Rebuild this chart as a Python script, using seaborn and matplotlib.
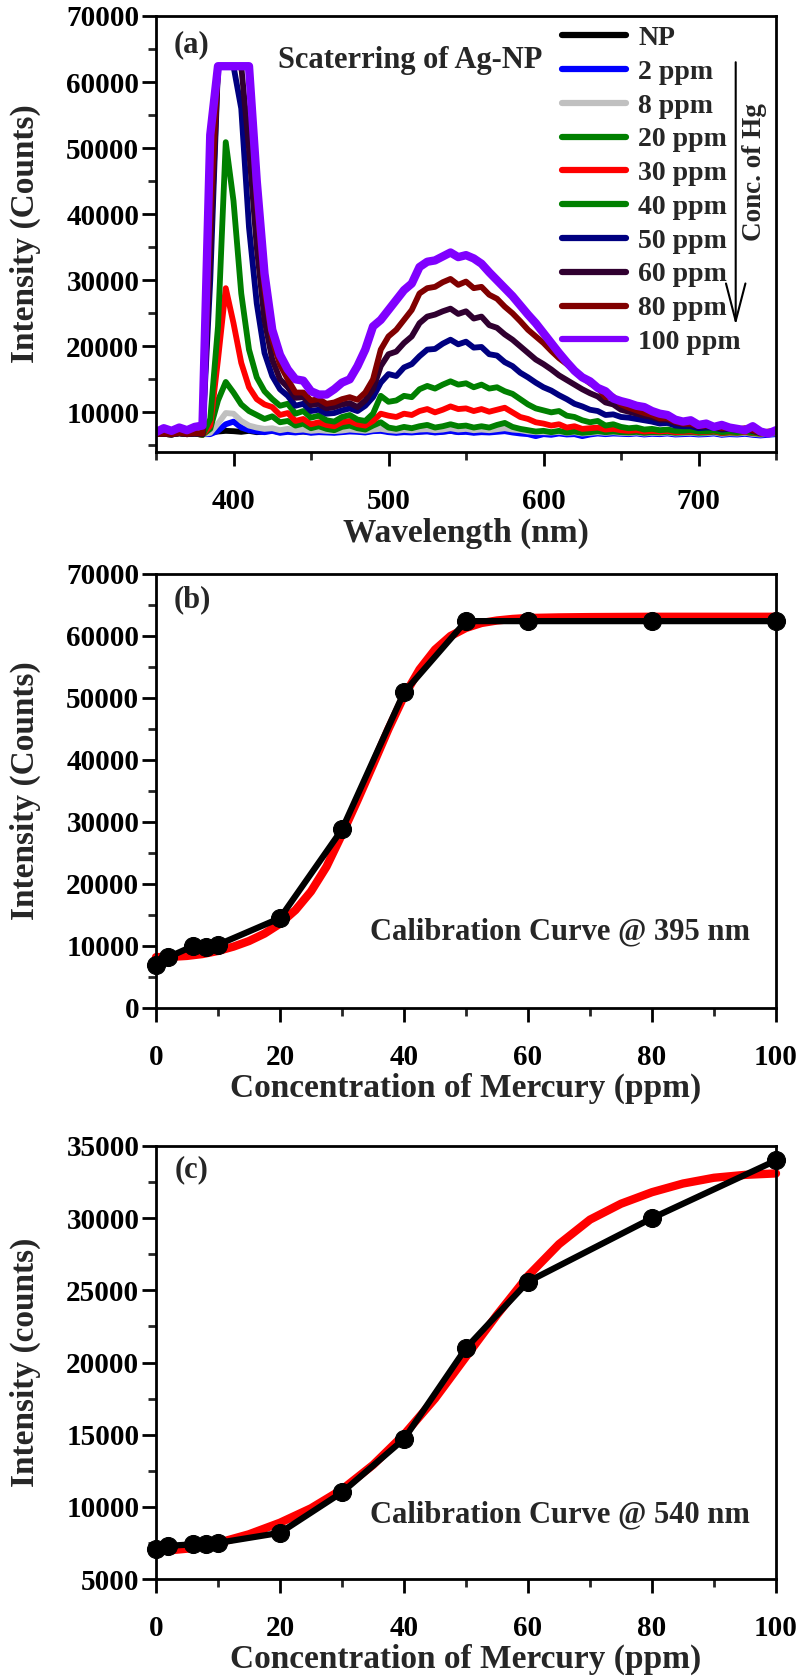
import numpy as np
import pandas as pd
import matplotlib
matplotlib.use("Agg")
import matplotlib.pyplot as plt
import seaborn as sns
from matplotlib.ticker import MultipleLocator

# ---------------- data ----------------
wavelength = list(range(350, 751, 5))

labels = ["NP", "2 ppm", "8 ppm", "20 ppm", "30 ppm", "40 ppm",
          "50 ppm", "60 ppm", "80 ppm", "100 ppm"]
colors = ["#000000", "#0000FF", "#C0C0C0", "#008000", "#FF0000", "#008000",
          "#000080", "#300030", "#800000", "#8000FF"]

np_ = [6700, 6800, 6700, 6900, 6750, 6850, 6700, 7000, 7100, 7200,
       7150, 7050, 7200, 7000, 7100, 7250, 7000, 7150, 7050, 7100,
       7000, 7150, 7050, 7000, 7100, 7200, 7150, 7050, 7250, 7300,
       7100, 7000, 7150, 7050, 7100, 7200, 7000, 7100, 7200, 7050,
       7150, 7000, 7100, 7050, 7200, 7300, 7100, 7050, 6900, 6800,
       6900, 6850, 7000, 6800, 6900, 6700, 6850, 6950, 6800, 6900,
       6850, 6800, 6900, 6750, 6850, 6800, 6900, 6750, 6800, 6850,
       6750, 6800, 6900, 6700, 6800, 6750, 6850, 6700, 6600, 6700,
       6800]
ppm2 = [6700, 6750, 6700, 6850, 6700, 6800, 6700, 6700, 7200, 8200,
        8600, 7700, 7300, 7100, 7000, 7200, 6900, 7050, 6950, 7100,
        6900, 7000, 6950, 6900, 7000, 7100, 7050, 6950, 7150, 7200,
        7000, 6900, 7000, 6950, 7050, 7100, 6950, 7050, 7200, 7000,
        7050, 6900, 7000, 6950, 7050, 7150, 6950, 6800, 6700, 6400,
        6700, 6600, 6800, 6650, 6700, 6400, 6650, 6800, 6700, 6800,
        6750, 6700, 6800, 6650, 6750, 6700, 6800, 6650, 6700, 6750,
        6650, 6700, 6800, 6600, 6700, 6650, 6750, 6600, 6500, 6600,
        6700]
ppm8 = [6700, 6800, 6700, 6900, 6750, 6850, 6700, 6900, 8300, 9900,
        9800, 8700, 8000, 7700, 7500, 7600, 7300, 7500, 7300, 7400,
        7200, 7300, 7200, 7150, 7250, 7400, 7300, 7200, 7400, 7500,
        7300, 7200, 7350, 7250, 7400, 7450, 7300, 7400, 7600, 7400,
        7500, 7300, 7400, 7300, 7450, 7600, 7400, 7300, 7100, 7000,
        7000, 6950, 7050, 6900, 7000, 6800, 6900, 7000, 6900, 7000,
        6900, 6850, 6950, 6800, 6900, 6850, 6950, 6800, 6850, 6900,
        6800, 6850, 6950, 6750, 6850, 6800, 6900, 6750, 6650, 6750,
        6850]
ppm20 = [6700, 6750, 6650, 6850, 6700, 6800, 6600, 7500, 11800, 14600,
         13000, 11200, 10200, 9600, 9000, 9400, 8500, 8700, 8000, 8300,
         7600, 7900, 7500, 7300, 7800, 8000, 7600, 7400, 8000, 8500,
         7700, 7500, 7800, 7600, 7900, 8100, 7700, 7900, 8200, 7900,
         8000, 7700, 7900, 7700, 8100, 8400, 7800, 7500, 7300, 7100,
         7200, 7000, 7200, 6950, 7100, 6900, 7000, 7150, 7000, 7100,
         7000, 6950, 7050, 6900, 7000, 6950, 7050, 6900, 6950, 7000,
         6900, 6950, 7050, 6850, 6950, 6900, 7000, 6850, 6750, 6850,
         6950]
ppm30 = [6700, 6750, 6650, 6850, 6700, 6800, 6600, 8000, 18000, 28800,
         23500, 17500, 13800, 12000, 11200, 10800, 9600, 9900, 8700, 9000,
         8200, 8500, 8100, 7900, 8500, 8700, 8200, 8000, 8700, 9800,
         9500, 9300, 9800, 9600, 10200, 10500, 10000, 10400, 10900, 10500,
         10600, 10200, 10500, 10100, 10400, 10700, 10000, 9300, 9000, 8500,
         8300, 8000, 8200, 7700, 7900, 7500, 7600, 7700, 7400, 7500,
         7300, 7200, 7300, 7100, 7200, 7100, 7200, 7000, 7050, 7100,
         7000, 7050, 7150, 6900, 7000, 6950, 7050, 6900, 6800, 6900,
         7000]
ppm40 = [6700, 6750, 6650, 6850, 6700, 6800, 6600, 9000, 23000, 50900,
         42000, 28000, 19500, 15300, 13200, 12000, 11000, 11300, 9800, 10200,
         9200, 9500, 8800, 8600, 9300, 9600, 8900, 8700, 9800, 12500,
         11600, 11800, 12500, 12300, 13500, 14000, 13600, 14200, 14700, 14200,
         14400, 13800, 14200, 13600, 13800, 13200, 12800, 12000, 11200, 10600,
         10300, 10000, 10200, 9500, 9300, 8800, 8500, 8700, 8000, 8200,
         7800, 7600, 7700, 7400, 7500, 7300, 7400, 7200, 7200, 7300,
         7100, 7150, 7250, 7000, 7100, 7000, 7150, 6950, 6850, 6950,
         7050]
ppm50 = [6700, 6750, 6650, 6850, 6700, 6800, 6700, 30000, 62400, 62400,
         62400, 56000, 38000, 26500, 19000, 15500, 13500, 12500, 11000, 11300,
         10200, 10400, 9800, 9900, 10300, 10600, 10200, 11000, 12300, 14500,
         15800, 15500, 16800, 17300, 18500, 19500, 19600, 20400, 21000, 20300,
         20700, 19800, 19900, 18800, 18600, 17600, 17000, 16000, 15300, 14500,
         13800, 13300, 12600, 12000, 11300, 10900, 10400, 10200, 9600, 9700,
         9300, 9200, 9000, 8800, 8600, 8300, 8400, 8000, 7900, 7900,
         7600, 7700, 7700, 7400, 7500, 7300, 7500, 7200, 6900, 7000,
         7100]
ppm60 = [6700, 6750, 6650, 6850, 6700, 6800, 6700, 34000, 62400, 62400,
         62400, 62400, 50000, 35000, 24000, 18000, 15000, 13800, 12200, 12300,
         11100, 11300, 10600, 10800, 11200, 11400, 10800, 11800, 13500, 17000,
         18800, 19200, 20500, 21500, 23500, 24500, 24800, 25300, 25700, 24900,
         25300, 24200, 24500, 23200, 22800, 21800, 21000, 20000, 19000, 18000,
         17300, 16500, 15600, 14900, 14200, 13500, 12900, 12400, 11500, 11200,
         10400, 10100, 9800, 9500, 9300, 8900, 8900, 8400, 8200, 8200,
         7800, 7900, 7800, 7500, 7600, 7300, 7500, 7200, 6900, 7000,
         7100]
ppm80 = [6700, 6800, 6700, 6900, 6750, 6850, 6800, 40000, 62400, 62400,
         62400, 62400, 62400, 42000, 28500, 21000, 17200, 15000, 13000, 13000,
         11800, 12000, 11300, 11500, 12000, 12300, 11900, 13000, 15000, 19500,
         21500, 22500, 24000, 25500, 28000, 28800, 29000, 29700, 30200, 29300,
         29800, 28800, 29000, 27800, 27200, 26000, 25000, 23800, 22500, 21500,
         20500, 19300, 18200, 17300, 16300, 15300, 14400, 13700, 12300, 12400,
         11200, 10700, 10300, 9900, 9600, 9100, 9100, 8600, 8300, 8300,
         7900, 8000, 7900, 7600, 7700, 7400, 7600, 7300, 6900, 7100,
         7200]
ppm100 = [7000, 7600, 7200, 7700, 7300, 7800, 8000, 52000, 62400, 62400,
          62400, 62400, 62400, 45000, 31000, 22500, 18700, 16500, 15000, 14800,
          13200, 12700, 12700, 13500, 14500, 15000, 17000, 19500, 23000, 24000,
          25500, 27000, 28500, 29500, 32000, 32800, 33000, 33600, 34200, 33500,
          33800, 33300, 32500, 31200, 30000, 28800, 27600, 26200, 24800, 23500,
          22000, 20500, 19000, 17600, 16300, 15300, 14700, 13700, 13200, 12100,
          11700, 11400, 11000, 10800, 10200, 9800, 9600, 8900, 8600, 8800,
          8100, 8300, 7800, 8100, 7700, 7500, 7300, 7900, 7100, 6800,
          7300]
spectra = [np_, ppm2, ppm8, ppm20, ppm30, ppm40, ppm50, ppm60, ppm80, ppm100]

conc = [0, 2, 6, 8, 10, 20, 30, 40, 50, 60, 80, 100]
int_395 = [7000, 8200, 10000, 9900, 10200, 14500, 28800, 50900, 62400, 62400, 62400, 62400]
int_540 = [7050, 7300, 7400, 7450, 7500, 8200, 11000, 14700, 21000, 25600, 30000, 34000]

fit_x_b = [0, 2.5, 5, 7.5, 10, 12.5, 15, 17.5, 20, 22.5, 25, 27.5, 30, 32.5, 35,
           37.5, 40, 42.5, 45, 47.5, 50, 52.5, 55, 57.5, 60, 65, 70, 80, 90, 100]
fit_y_b = [8200, 8250, 8400, 8700, 9200, 9900, 10800, 12000, 13600, 15800, 18800,
           22800, 28000, 33500, 39200, 45000, 50300, 54600, 57800, 60000, 61300,
           62100, 62500, 62750, 62900, 63000, 63050, 63100, 63100, 63100]
fit_x_c = [0, 5, 10, 15, 20, 25, 30, 35, 40, 45, 50, 55, 60, 65, 70, 75, 80, 85, 90, 95, 100]
fit_y_c = [6900, 7100, 7500, 8100, 8900, 9900, 11200, 12900, 15000, 17500, 20400,
           23300, 26000, 28200, 29900, 31000, 31800, 32400, 32800, 33000, 33100]

# ---------------- style ----------------
sns.set_theme(style="ticks")
plt.rcParams["font.family"] = ["Liberation Serif", "DejaVu Serif"]
plt.rcParams["font.weight"] = "bold"
plt.rcParams["axes.labelweight"] = "bold"
plt.rcParams["axes.linewidth"] = 2.0
plt.rcParams["axes.edgecolor"] = "black"

TICK = 21
LAB = 24
ANN = 22

fig = plt.figure(figsize=(8.01, 16.8), dpi=100)
W, H = 801.0, 1680.0
ax_a = fig.add_axes([156 / W, 1 - 452 / H, 620 / W, 436 / H])
ax_b = fig.add_axes([156 / W, 1 - 1008 / H, 620 / W, 434 / H])
ax_c = fig.add_axes([156 / W, 1 - 1579 / H, 620 / W, 433 / H])


def style_axes(ax):
    for s in ax.spines.values():
        s.set_visible(True)
        s.set_linewidth(2.0)
        s.set_color("black")
    ax.tick_params(which="major", direction="out", length=10, width=2,
                   labelsize=TICK, colors="black")
    ax.tick_params(which="minor", direction="out", length=6, width=2)
    ax.tick_params(axis="x", which="major", pad=16)
    ax.tick_params(axis="y", which="major", pad=2)
    for t in ax.get_xticklabels() + ax.get_yticklabels():
        t.set_fontweight("bold")


# ---------------- panel (a) ----------------
for lab, col, vals in zip(labels, colors, spectra):
    lw = 6.0 if lab == "100 ppm" else 4.2
    sns.lineplot(x=wavelength, y=vals, color=col, linewidth=lw, label=lab,
                 ax=ax_a, sort=False)
ax_a.set_xlim(350, 750)
ax_a.set_ylim(4000, 70000)
ax_a.xaxis.set_major_locator(MultipleLocator(100))
ax_a.xaxis.set_minor_locator(MultipleLocator(50))
ax_a.yaxis.set_major_locator(MultipleLocator(10000))
ax_a.yaxis.set_minor_locator(MultipleLocator(5000))
ax_a.set_xlabel("Wavelength (nm)", fontsize=LAB, fontweight="bold")
ax_a.set_ylabel("Intensity (Counts)", fontsize=LAB, fontweight="bold")
style_axes(ax_a)
leg = ax_a.legend(loc="upper left", bbox_to_anchor=(0.655, 0.978), frameon=False,
                  fontsize=20, handlelength=2.3, handletextpad=0.45,
                  labelspacing=0.3, borderpad=0, borderaxespad=0)
for t in leg.get_texts():
    t.set_fontweight("bold")
for h in leg.get_lines():
    h.set_linewidth(4.5)
ax_a.text(0.058, 0.935, "(a)", transform=ax_a.transAxes, fontsize=ANN,
          fontweight="bold", ha="center", va="center")
ax_a.text(0.41, 0.899, "Scaterring of Ag-NP", transform=ax_a.transAxes,
          fontsize=ANN, fontweight="bold", ha="center", va="center")
ax_a.text(0.966, 0.642, "Conc. of Hg", transform=ax_a.transAxes, fontsize=19.5,
          fontweight="bold", ha="center", va="center", rotation=90)
ax_a.annotate("", xy=(0.935, 0.291), xytext=(0.935, 0.894),
              xycoords="axes fraction", textcoords="axes fraction",
              arrowprops=dict(arrowstyle="->,head_length=2.7,head_width=0.7",
                              lw=1.5, color="black", mutation_scale=10,
                              shrinkA=0, shrinkB=0))

# ---------------- panel (b) ----------------
sns.lineplot(x=fit_x_b, y=fit_y_b, color="#FF0000", linewidth=6, ax=ax_b)
sns.lineplot(x=conc, y=int_395, color="black", linewidth=4.5, marker="o",
             markersize=13, markeredgecolor="black", ax=ax_b)
ax_b.set_xlim(0, 100)
ax_b.set_ylim(0, 70000)
ax_b.xaxis.set_major_locator(MultipleLocator(20))
ax_b.xaxis.set_minor_locator(MultipleLocator(10))
ax_b.yaxis.set_major_locator(MultipleLocator(10000))
ax_b.yaxis.set_minor_locator(MultipleLocator(5000))
ax_b.set_xlabel("Concentration of Mercury (ppm)", fontsize=LAB, fontweight="bold")
ax_b.set_ylabel("Intensity (Counts)", fontsize=LAB, fontweight="bold")
style_axes(ax_b)
ax_b.text(0.058, 0.94, "(b)", transform=ax_b.transAxes, fontsize=ANN,
          fontweight="bold", ha="center", va="center")
ax_b.text(0.652, 0.175, "Calibration Curve @ 395 nm", transform=ax_b.transAxes,
          fontsize=ANN, fontweight="bold", ha="center", va="center")

# ---------------- panel (c) ----------------
sns.lineplot(x=fit_x_c, y=fit_y_c, color="#FF0000", linewidth=6, ax=ax_c)
sns.lineplot(x=conc, y=int_540, color="black", linewidth=4.5, marker="o",
             markersize=13, markeredgecolor="black", ax=ax_c)
ax_c.set_xlim(0, 100)
ax_c.set_ylim(5000, 35000)
ax_c.xaxis.set_major_locator(MultipleLocator(20))
ax_c.xaxis.set_minor_locator(MultipleLocator(10))
ax_c.yaxis.set_major_locator(MultipleLocator(5000))
ax_c.yaxis.set_minor_locator(MultipleLocator(2500))
ax_c.set_xlabel("Concentration of Mercury (ppm)", fontsize=LAB, fontweight="bold")
ax_c.set_ylabel("Intensity (counts)", fontsize=LAB, fontweight="bold")
style_axes(ax_c)
ax_c.text(0.058, 0.945, "(c)", transform=ax_c.transAxes, fontsize=ANN,
          fontweight="bold", ha="center", va="center")
ax_c.text(0.652, 0.149, "Calibration Curve @ 540 nm", transform=ax_c.transAxes,
          fontsize=ANN, fontweight="bold", ha="center", va="center")

for ax in (ax_b, ax_c):
    for ln in ax.lines:
        ln.set_clip_on(False)

for ax in (ax_a, ax_b, ax_c):
    ax.yaxis.set_label_coords(-0.185, 0.5)
    ax.xaxis.set_label_coords(0.5, -0.15)

fig.savefig("out.png", dpi=100)
